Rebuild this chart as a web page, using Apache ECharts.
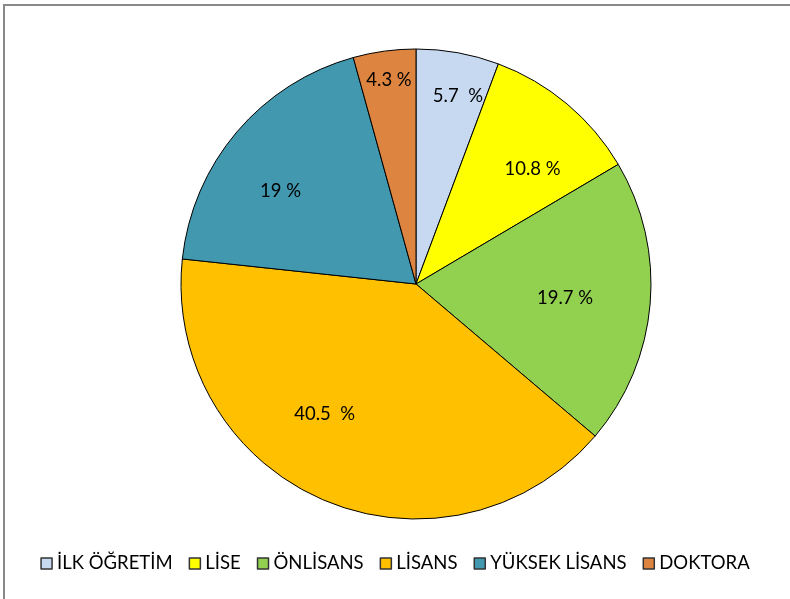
<!DOCTYPE html>
<html><head><meta charset="utf-8">
<script src="https://cdn.jsdelivr.net/npm/echarts@6/dist/echarts.min.js"></script>
<style>html,body{margin:0;padding:0;background:#fff}#c{width:790px;height:599px}</style>
</head><body><div id="c"></div>
<script>
const categories = ['İLK ÖĞRETİM','LİSE','ÖNLİSANS','LİSANS','YÜKSEK LİSANS','DOKTORA'];
const values = [5.7, 10.8, 19.7, 40.5, 19, 4.3];
const labelTexts = ['5.7  %','10.8 %','19.7 %','40.5  %','19 %','4.3 %'];
const colors = ['#C6D9F1','#FFFF00','#92D050','#FFC000','#4198AF','#DD8540'];

const chart = echarts.init(document.getElementById('c'));
const CX = 416, CY = 284, R = 235;
const total = values.reduce((a,b)=>a+b,0);
function midAngle(i){
  let s = 0; for (let k=0;k<i;k++) s += values[k];
  return (s + values[i]/2) / total * 2 * Math.PI;
}
// label placement (best-fit style): radial fraction and angular nudge (deg) per slice
const LABEL_R = [0.82, 0.697, 0.637, 0.677, 0.698, 0.876];
const LABEL_NUDGE = [2.3, 5.4, 0.7, 11.8, -6.0, 0.2];
const font = 'Lato, "Open Sans", sans-serif';
chart.setOption({
  animation:false,
  color: colors,
  graphic:[
    {type:'rect', shape:{x:3,y:4,width:2,height:600}, style:{fill:'#898989'}, silent:true},
    {type:'rect', shape:{x:3,y:4,width:800,height:2}, style:{fill:'#898989'}, silent:true}
  ],
  legend:{
    bottom: 21, left:'center',
    icon:'rect', itemWidth:11, itemHeight:11, itemGap:16, 
    textStyle:{fontFamily:font, fontSize:18.5, color:'#000', padding:[0,0,0,0]},
    itemStyle:{borderColor:'#333', borderWidth:1.5},
    data: categories
  },
  series:[{
    type:'pie',
    center:[CX, CY],
    radius:[0, R],
    startAngle:90,
    clockwise:true,
    itemStyle:{borderColor:'#000', borderWidth:1},
    label:{
      position:'inside',
      formatter: p => labelTexts[p.dataIndex],
      fontFamily:font, fontSize:18.5, color:'#000'
    },
    labelLine:{show:false},
    labelLayout: function(p){
      const i = p.dataIndex;
      const a = midAngle(i) + LABEL_NUDGE[i] * Math.PI / 180;
      const k = LABEL_R[i];
      return {x: CX + R*k*Math.sin(a), y: CY - R*k*Math.cos(a), align:'center', verticalAlign:'middle'};
    },
    emphasis:{disabled:true},
    data: categories.map((c,i)=>({name:c, value:values[i]}))
  }]
});
</script></body></html>
